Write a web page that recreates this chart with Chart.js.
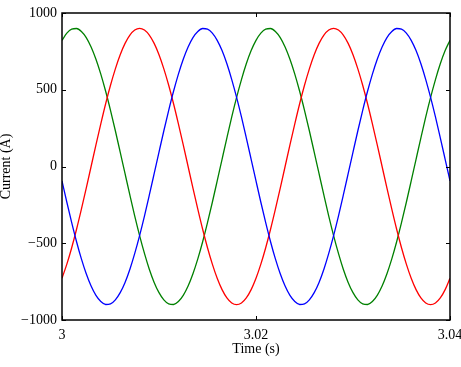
<!DOCTYPE html>
<html>
<head>
<meta charset="utf-8">
<script src="https://cdn.jsdelivr.net/npm/chart.js@4/dist/chart.umd.min.js"></script>
<style>
html,body{margin:0;padding:0;background:#fff;}
canvas{display:block;}
</style>
</head>
<body>
<canvas id="c" width="461" height="367"></canvas>
<script>
// Time samples (s)
const time = [3.0000,3.0005,3.0010,3.0015,3.0020,3.0025,3.0030,3.0035,3.0040,3.0045,
3.0050,3.0055,3.0060,3.0065,3.0070,3.0075,3.0080,3.0085,3.0090,3.0095,
3.0100,3.0105,3.0110,3.0115,3.0120,3.0125,3.0130,3.0135,3.0140,3.0145,
3.0150,3.0155,3.0160,3.0165,3.0170,3.0175,3.0180,3.0185,3.0190,3.0195,
3.0200,3.0205,3.0210,3.0215,3.0220,3.0225,3.0230,3.0235,3.0240,3.0245,
3.0250,3.0255,3.0260,3.0265,3.0270,3.0275,3.0280,3.0285,3.0290,3.0295,
3.0300,3.0305,3.0310,3.0315,3.0320,3.0325,3.0330,3.0335,3.0340,3.0345,
3.0350,3.0355,3.0360,3.0365,3.0370,3.0375,3.0380,3.0385,3.0390,3.0395,3.0400];

// Phase currents (A)
const currentBlue = [-94,-233,-366,-490,-602,-699,-779,-840,-880,-899,
-895,-869,-822,-755,-669,-566,-450,-323,-187,-47,
94,233,366,490,602,699,779,840,880,899,
895,869,822,755,669,566,450,323,187,47,
-94,-233,-366,-490,-602,-699,-779,-840,-880,-899,
-895,-869,-822,-755,-669,-566,-450,-323,-187,-47,
94,233,366,490,602,699,779,840,880,899,
895,869,822,755,669,566,450,323,187,47,-94];

const currentRed = [-728,-636,-529,-409,-278,-141,0,141,278,409,
529,636,728,802,856,889,900,889,856,802,
728,636,529,409,278,141,0,-141,-278,-409,
-529,-636,-728,-802,-856,-889,-900,-889,-856,-802,
-728,-636,-529,-409,-278,-141,0,141,278,409,
529,636,728,802,856,889,900,889,856,802,
728,636,529,409,278,141,0,-141,-278,-409,
-529,-636,-728,-802,-856,-889,-900,-889,-856,-802,-728];

const currentGreen = [822,869,895,899,880,840,779,699,602,490,
366,233,94,-47,-187,-323,-450,-566,-669,-755,
-822,-869,-895,-899,-880,-840,-779,-699,-602,-490,
-366,-233,-94,47,187,323,450,566,669,755,
822,869,895,899,880,840,779,699,602,490,
366,233,94,-47,-187,-323,-450,-566,-669,-755,
-822,-869,-895,-899,-880,-840,-779,-699,-602,-490,
-366,-233,-94,47,187,323,450,566,669,755,822];

const xTicks = [3, 3.02, 3.04];
const yTicks = [-1000, -500, 0, 500, 1000];

function pts(vals){ return time.map((t,i)=>({x:t, y:vals[i]})); }

const FONT = 'Liberation Serif, Times New Roman, serif';

const framePlugin = {
  id: 'frame',
  afterDatasetsDraw(chart){
    const {ctx, chartArea:a, scales} = chart;
    const L = 4;
    ctx.save();
    ctx.strokeStyle = '#000';
    ctx.lineWidth = 1.5;
    ctx.strokeRect(a.left, a.top, a.right - a.left, a.bottom - a.top);
    ctx.lineWidth = 1;
    ctx.beginPath();
    xTicks.forEach(v=>{
      const x = Math.round(scales.x.getPixelForValue(v)) + 0.5;
      ctx.moveTo(x, a.bottom); ctx.lineTo(x, a.bottom - L);
      ctx.moveTo(x, a.top); ctx.lineTo(x, a.top + L);
    });
    yTicks.forEach(v=>{
      const y = Math.round(scales.y.getPixelForValue(v)) + 0.5;
      ctx.moveTo(a.left, y); ctx.lineTo(a.left + L, y);
      ctx.moveTo(a.right, y); ctx.lineTo(a.right - L, y);
    });
    ctx.stroke();
    ctx.restore();
  }
};

function noPad(s){ s.paddingLeft = 0; s.paddingRight = 0; s.paddingTop = 0; s.paddingBottom = 0; }

new Chart(document.getElementById('c'), {
  type: 'line',
  data: {
    datasets: [
      {label:'Phase A', data: pts(currentBlue), borderColor:'#0000ff'},
      {label:'Phase B', data: pts(currentRed), borderColor:'#ff0000'},
      {label:'Phase C', data: pts(currentGreen), borderColor:'#008000'}
    ].map(d=>Object.assign(d,{borderWidth:1.3, pointRadius:0, fill:false, cubicInterpolationMode:'monotone'}))
  },
  options: {
    responsive: false,
    animation: false,
    devicePixelRatio: 1,
    layout: {autoPadding: false, padding: {top: 13, right: 11, left: 0, bottom: 0}},
    plugins: {legend:{display:false}, tooltip:{enabled:false}},
    scales: {
      x: {
        type: 'linear', min: 3, max: 3.04,
        afterBuildTicks(s){ s.ticks = xTicks.map(v=>({value:v})); },
        afterFit(s){ s.height = 47; noPad(s); },
        grid: {display:false, drawTicks:false, tickLength:0},
        border: {display:false},
        ticks: {
          color:'#000', padding: 7, maxRotation:0, autoSkip:false,
          font:{family:FONT, size:14},
          callback(v){ return String(Number(v.toFixed(2))); }
        },
        title: {display:true, text:'Time (s)', color:'#000',
          font:{family:FONT, size:14, lineHeight:1.2}, padding:{top:0, bottom:9}}
      },
      y: {
        type: 'linear', min: -1000, max: 1000,
        afterBuildTicks(s){ s.ticks = yTicks.map(v=>({value:v})); },
        afterFit(s){ s.width = 62; noPad(s); },
        grid: {display:false, drawTicks:false, tickLength:0},
        border: {display:false},
        ticks: {
          color:'#000', padding: 5,
          font:{family:FONT, size:14},
          callback(v){ return String(v).replace('-', '\u2212'); }
        },
        title: {display:true, text:'Current (A)', color:'#000',
          font:{family:FONT, size:14, lineHeight:1}, padding:{top:-1, bottom:0}}
      }
    }
  },
  plugins: [framePlugin]
});
</script>
</body>
</html>
